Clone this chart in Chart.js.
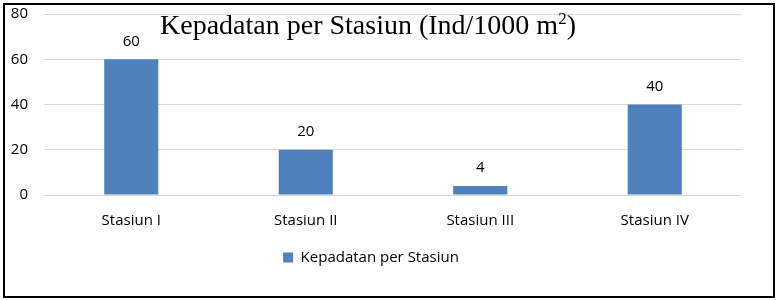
<!DOCTYPE html>
<html>
<head>
<meta charset="utf-8">
<script src="https://cdn.jsdelivr.net/npm/chart.js@4.4.1/dist/chart.umd.min.js"></script>
<style>
  body { margin: 0; background: #fff; }
  #wrap { position: relative; width: 780px; height: 300px; }
  #frame { position: absolute; left: 3px; top: 3px; width: 768px; height: 291px; border: 2px solid #000; }
  #title { position: absolute; left: 160px; top: 9px; font-family: "Liberation Serif", "Times New Roman", serif; font-size: 28px; color: #000; white-space: nowrap; }
  #title sup { font-size: 17px; vertical-align: 10px; line-height: 0; }
</style>
</head>
<body>
<div id="wrap">
  <canvas id="kepadatanChart" width="780" height="300"></canvas>
  <div id="frame"></div>
  <div id="title">Kepadatan per Stasiun (Ind/1000 m<sup>2</sup>)</div>
</div>
<script>
var stations = ['Stasiun I', 'Stasiun II', 'Stasiun III', 'Stasiun IV'];
var kepadatan = [60, 20, 4, 40];
var yTicks = [0, 20, 40, 60, 80];

var labelFont = { family: '"Open Sans", "Noto Sans", sans-serif', size: 15 };

// draws the value above each bar
var valueLabels = {
    id: 'valueLabels',
    afterDatasetsDraw: function (chart) {
        var ctx = chart.ctx;
        ctx.save();
        ctx.fillStyle = '#000';
        ctx.font = '15px "Open Sans", "Noto Sans", sans-serif';
        ctx.textAlign = 'center';
        ctx.textBaseline = 'middle';
        chart.getDatasetMeta(0).data.forEach(function (bar, i) {
            ctx.fillText(kepadatan[i], bar.x, bar.y - 18);
        });
        ctx.restore();
    }
};

var ctx = document.getElementById('kepadatanChart');
var chart = new Chart(ctx, {
    type: 'bar',
    data: {
        labels: stations,
        datasets: [{
            label: 'Kepadatan per Stasiun',
            data: kepadatan,
            backgroundColor: '#4F81BD',
            borderWidth: 0,
            categoryPercentage: 1,
            barPercentage: 0.31
        }]
    },
    options: {
        responsive: false,
        animation: false,
        layout: { padding: { left: 0, right: 38, top: 14, bottom: 25 } },
        plugins: {
            title: { display: false },
            tooltip: { enabled: false },
            legend: {
                position: 'bottom',
                labels: {
                    boxWidth: 10,
                    boxHeight: 10,
                    padding: 10,
                    color: '#000',
                    font: labelFont
                }
            }
        },
        scales: {
            x: {
                grid: { display: false },
                border: { display: false },
                ticks: { color: '#000', font: labelFont, padding: 9 },
                afterFit: function (scale) { scale.height = 45; }
            },
            y: {
                min: 0,
                max: 80,
                afterBuildTicks: function (scale) {
                    scale.ticks = yTicks.map(function (v) { return { value: v }; });
                },
                // invisible tick marks give the gap between labels and plot
                grid: { color: '#D9D9D9', drawTicks: true, tickLength: 16, tickColor: 'rgba(0,0,0,0)' },
                border: { display: false },
                ticks: { color: '#000', font: labelFont, padding: 0 },
                afterFit: function (scale) { scale.width = 44; }
            }
        }
    },
    plugins: [valueLabels]
});
</script>
</body>
</html>
